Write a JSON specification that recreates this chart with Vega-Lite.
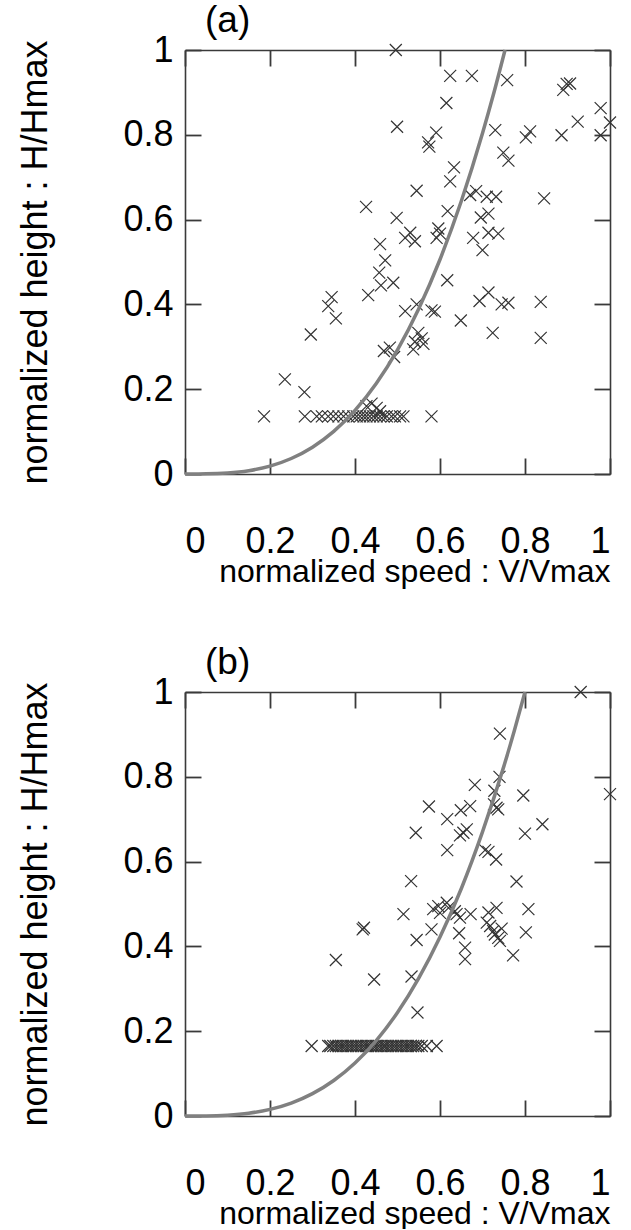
{
  "$schema": "https://vega.github.io/schema/vega-lite/v6.json",
  "background": "white",
  "padding": {"left": 17, "top": 2, "right": 0, "bottom": 0},
  "spacing": 57,
  "config": {
    "font": "Liberation Sans",
    "view": {"stroke": null},
    "title": {"font": "Liberation Sans", "fontSize": 37, "fontWeight": "normal", "color": "#000"},
    "axis": {
      "grid": false,
      "domainColor": "#3a3a3a",
      "domainWidth": 1.6,
      "tickColor": "#3a3a3a",
      "tickWidth": 1.8,
      "tickSize": 16,
      "labelFont": "Liberation Sans",
      "labelFontSize": 36,
      "labelColor": "#000",
      "titleFont": "Liberation Sans",
      "titleFontSize": 32,
      "titleFontWeight": "normal",
      "titleColor": "#000"
    }
  },
  "datasets": {
    "pa": [
      {"v": 0.496, "h": 1.0}, {"v": 0.624, "h": 0.939}, {"v": 0.675, "h": 0.939}, {"v": 0.758, "h": 0.929},
      {"v": 0.615, "h": 0.875}, {"v": 0.499, "h": 0.819}, {"v": 0.73, "h": 0.811}, {"v": 0.591, "h": 0.805},
      {"v": 0.572, "h": 0.782}, {"v": 0.575, "h": 0.772}, {"v": 0.749, "h": 0.758}, {"v": 0.761, "h": 0.739},
      {"v": 0.633, "h": 0.723}, {"v": 0.624, "h": 0.69}, {"v": 0.545, "h": 0.668}, {"v": 0.671, "h": 0.658},
      {"v": 0.685, "h": 0.667}, {"v": 0.71, "h": 0.654}, {"v": 0.732, "h": 0.654}, {"v": 0.845, "h": 0.65},
      {"v": 0.618, "h": 0.62}, {"v": 0.426, "h": 0.63}, {"v": 0.498, "h": 0.604}, {"v": 0.696, "h": 0.605},
      {"v": 0.714, "h": 0.614}, {"v": 0.596, "h": 0.579}, {"v": 0.6, "h": 0.567}, {"v": 0.592, "h": 0.557},
      {"v": 0.518, "h": 0.557}, {"v": 0.53, "h": 0.569}, {"v": 0.541, "h": 0.549}, {"v": 0.678, "h": 0.557},
      {"v": 0.714, "h": 0.569}, {"v": 0.737, "h": 0.567}, {"v": 0.7, "h": 0.528}, {"v": 0.459, "h": 0.542},
      {"v": 0.471, "h": 0.504}, {"v": 0.457, "h": 0.475}, {"v": 0.461, "h": 0.445}, {"v": 0.49, "h": 0.451},
      {"v": 0.617, "h": 0.457}, {"v": 0.431, "h": 0.422}, {"v": 0.345, "h": 0.417}, {"v": 0.337, "h": 0.396},
      {"v": 0.355, "h": 0.367}, {"v": 0.296, "h": 0.329}, {"v": 0.518, "h": 0.384}, {"v": 0.545, "h": 0.4},
      {"v": 0.58, "h": 0.386}, {"v": 0.588, "h": 0.383}, {"v": 0.649, "h": 0.362}, {"v": 0.693, "h": 0.408},
      {"v": 0.714, "h": 0.428}, {"v": 0.745, "h": 0.4}, {"v": 0.761, "h": 0.404}, {"v": 0.837, "h": 0.406},
      {"v": 0.724, "h": 0.333}, {"v": 0.837, "h": 0.321}, {"v": 0.549, "h": 0.333}, {"v": 0.557, "h": 0.32},
      {"v": 0.541, "h": 0.312}, {"v": 0.561, "h": 0.307}, {"v": 0.537, "h": 0.294}, {"v": 0.468, "h": 0.29},
      {"v": 0.482, "h": 0.298}, {"v": 0.492, "h": 0.276}, {"v": 0.235, "h": 0.223}, {"v": 0.281, "h": 0.193},
      {"v": 0.898, "h": 0.92}, {"v": 0.89, "h": 0.906}, {"v": 0.906, "h": 0.921}, {"v": 0.978, "h": 0.863},
      {"v": 0.924, "h": 0.831}, {"v": 1.0, "h": 0.829}, {"v": 0.978, "h": 0.799}, {"v": 0.886, "h": 0.799},
      {"v": 0.802, "h": 0.794}, {"v": 0.812, "h": 0.808},
      {"v": 0.427, "h": 0.16}, {"v": 0.439, "h": 0.166}, {"v": 0.451, "h": 0.156}, {"v": 0.459, "h": 0.148},
      {"v": 0.186, "h": 0.136}, {"v": 0.282, "h": 0.136}, {"v": 0.31, "h": 0.136}, {"v": 0.322, "h": 0.136},
      {"v": 0.337, "h": 0.136}, {"v": 0.349, "h": 0.136}, {"v": 0.361, "h": 0.136}, {"v": 0.373, "h": 0.136},
      {"v": 0.384, "h": 0.136}, {"v": 0.396, "h": 0.136}, {"v": 0.404, "h": 0.136}, {"v": 0.412, "h": 0.136},
      {"v": 0.42, "h": 0.136}, {"v": 0.427, "h": 0.136}, {"v": 0.435, "h": 0.136}, {"v": 0.443, "h": 0.136},
      {"v": 0.451, "h": 0.136}, {"v": 0.459, "h": 0.136}, {"v": 0.467, "h": 0.136}, {"v": 0.475, "h": 0.136},
      {"v": 0.486, "h": 0.136}, {"v": 0.494, "h": 0.136}, {"v": 0.506, "h": 0.136}, {"v": 0.514, "h": 0.136},
      {"v": 0.58, "h": 0.136}
    ],
    "pb": [
      {"v": 0.931, "h": 1.0}, {"v": 0.741, "h": 0.902}, {"v": 0.74, "h": 0.8}, {"v": 0.682, "h": 0.781},
      {"v": 0.728, "h": 0.767}, {"v": 0.796, "h": 0.756}, {"v": 1.0, "h": 0.759}, {"v": 0.574, "h": 0.73},
      {"v": 0.649, "h": 0.721}, {"v": 0.671, "h": 0.731}, {"v": 0.727, "h": 0.735}, {"v": 0.733, "h": 0.727},
      {"v": 0.737, "h": 0.723}, {"v": 0.617, "h": 0.7}, {"v": 0.543, "h": 0.668}, {"v": 0.663, "h": 0.676},
      {"v": 0.655, "h": 0.668}, {"v": 0.647, "h": 0.662}, {"v": 0.841, "h": 0.688}, {"v": 0.8, "h": 0.666},
      {"v": 0.617, "h": 0.627}, {"v": 0.706, "h": 0.627}, {"v": 0.714, "h": 0.623}, {"v": 0.732, "h": 0.605},
      {"v": 0.532, "h": 0.554}, {"v": 0.78, "h": 0.553}, {"v": 0.514, "h": 0.476}, {"v": 0.584, "h": 0.488},
      {"v": 0.596, "h": 0.495}, {"v": 0.616, "h": 0.503}, {"v": 0.62, "h": 0.491}, {"v": 0.6, "h": 0.479},
      {"v": 0.635, "h": 0.483}, {"v": 0.639, "h": 0.476}, {"v": 0.647, "h": 0.468}, {"v": 0.672, "h": 0.476},
      {"v": 0.714, "h": 0.48}, {"v": 0.733, "h": 0.491}, {"v": 0.808, "h": 0.488}, {"v": 0.71, "h": 0.456},
      {"v": 0.718, "h": 0.448}, {"v": 0.725, "h": 0.436}, {"v": 0.729, "h": 0.428}, {"v": 0.737, "h": 0.42},
      {"v": 0.745, "h": 0.442}, {"v": 0.741, "h": 0.413}, {"v": 0.58, "h": 0.44}, {"v": 0.545, "h": 0.415},
      {"v": 0.645, "h": 0.431}, {"v": 0.659, "h": 0.397}, {"v": 0.659, "h": 0.37}, {"v": 0.802, "h": 0.433},
      {"v": 0.772, "h": 0.379}, {"v": 0.533, "h": 0.329}, {"v": 0.418, "h": 0.44}, {"v": 0.421, "h": 0.444},
      {"v": 0.355, "h": 0.368}, {"v": 0.445, "h": 0.322}, {"v": 0.547, "h": 0.244},
      {"v": 0.298, "h": 0.165}, {"v": 0.337, "h": 0.165}, {"v": 0.342, "h": 0.165}, {"v": 0.349, "h": 0.165},
      {"v": 0.355, "h": 0.165}, {"v": 0.361, "h": 0.165}, {"v": 0.367, "h": 0.165}, {"v": 0.372, "h": 0.165},
      {"v": 0.378, "h": 0.165}, {"v": 0.384, "h": 0.165}, {"v": 0.39, "h": 0.165}, {"v": 0.396, "h": 0.165},
      {"v": 0.402, "h": 0.165}, {"v": 0.408, "h": 0.165}, {"v": 0.414, "h": 0.165}, {"v": 0.42, "h": 0.165},
      {"v": 0.426, "h": 0.165}, {"v": 0.431, "h": 0.165}, {"v": 0.437, "h": 0.165}, {"v": 0.443, "h": 0.165},
      {"v": 0.449, "h": 0.165}, {"v": 0.455, "h": 0.165}, {"v": 0.461, "h": 0.165}, {"v": 0.467, "h": 0.165},
      {"v": 0.472, "h": 0.165}, {"v": 0.478, "h": 0.165}, {"v": 0.484, "h": 0.165}, {"v": 0.49, "h": 0.165},
      {"v": 0.496, "h": 0.165}, {"v": 0.502, "h": 0.165}, {"v": 0.508, "h": 0.165}, {"v": 0.514, "h": 0.165},
      {"v": 0.52, "h": 0.165}, {"v": 0.525, "h": 0.165}, {"v": 0.531, "h": 0.165}, {"v": 0.537, "h": 0.165},
      {"v": 0.543, "h": 0.165}, {"v": 0.549, "h": 0.165}, {"v": 0.557, "h": 0.165}, {"v": 0.569, "h": 0.165},
      {"v": 0.592, "h": 0.165}
    ],
    "ca": [
      {"v": 0, "h": 0}, {"v": 0.05, "h": 0.0003}, {"v": 0.1, "h": 0.0023}, {"v": 0.15, "h": 0.0079},
      {"v": 0.2, "h": 0.0187}, {"v": 0.25, "h": 0.0366}, {"v": 0.3, "h": 0.0632}, {"v": 0.35, "h": 0.1004},
      {"v": 0.4, "h": 0.1499}, {"v": 0.45, "h": 0.2134}, {"v": 0.5, "h": 0.2928}, {"v": 0.55, "h": 0.3897},
      {"v": 0.6, "h": 0.5059}, {"v": 0.65, "h": 0.6432}, {"v": 0.7, "h": 0.8034}, {"v": 0.725, "h": 0.8925},
      {"v": 0.753, "h": 1.0}
    ],
    "cb": [
      {"v": 0, "h": 0}, {"v": 0.05, "h": 0.0002}, {"v": 0.1, "h": 0.002}, {"v": 0.15, "h": 0.0066},
      {"v": 0.2, "h": 0.0156}, {"v": 0.25, "h": 0.0305}, {"v": 0.3, "h": 0.0527}, {"v": 0.35, "h": 0.0837},
      {"v": 0.4, "h": 0.125}, {"v": 0.45, "h": 0.178}, {"v": 0.5, "h": 0.244}, {"v": 0.55, "h": 0.325},
      {"v": 0.6, "h": 0.422}, {"v": 0.65, "h": 0.536}, {"v": 0.7, "h": 0.67}, {"v": 0.75, "h": 0.824},
      {"v": 0.775, "h": 0.909}, {"v": 0.8, "h": 1.0}
    ]
  },
  "vconcat": [
    {
      "width": 425,
      "height": 424,
      "title": {"text": "(a)", "anchor": "start", "frame": "group", "dx": 20, "offset": -8},
      "resolve": {"axis": {"x": "independent", "y": "independent"}},
      "layer": [
        {
          "data": {"name": "ca"},
          "mark": {"type": "point", "opacity": 0},
          "encoding": {
            "x": {"field": "v", "type": "quantitative", "scale": {"domain": [0, 1], "nice": false, "zero": false},
                  "axis": {"orient": "top", "values": [0, 0.2, 0.4, 0.6, 0.8, 1], "offset": -424, "labels": false, "domain": false, "title": null}},
            "y": {"field": "h", "type": "quantitative", "scale": {"domain": [0, 1], "nice": false, "zero": false},
                  "axis": {"orient": "right", "values": [0, 0.2, 0.4, 0.6, 0.8, 1], "offset": -425, "labels": false, "domain": false, "title": null}}
          }
        },
        {
          "data": {"name": "ca"},
          "mark": {"type": "point", "opacity": 0},
          "encoding": {
            "x": {"field": "v", "type": "quantitative",
                  "axis": {"orient": "bottom", "values": [0, 0.2, 0.4, 0.6, 0.8, 1], "offset": -424, "labels": false, "domain": false, "title": null}},
            "y": {"field": "h", "type": "quantitative",
                  "axis": {"orient": "left", "values": [0, 0.2, 0.4, 0.6, 0.8, 1], "offset": -425, "labels": false, "domain": false, "title": null}}
          }
        },
        {
          "data": {"name": "pa"},
          "mark": {"type": "point", "shape": "M-1,-1L1,1M-1,1L1,-1", "size": 144, "strokeWidth": 1.2, "color": "#333", "opacity": 1, "filled": false},
          "encoding": {
            "x": {"field": "v", "type": "quantitative",
                  "axis": {"orient": "bottom", "values": [0, 0.2, 0.4, 0.6, 0.8, 1], "tickSize": 0, "format": "~g", "labelPadding": 50, "title": "normalized speed : V/Vmax", "titleAnchor": "end", "titlePadding": -3}},
            "y": {"field": "h", "type": "quantitative",
                  "axis": {"orient": "left", "values": [0, 0.2, 0.4, 0.6, 0.8, 1], "tickSize": 0, "format": "~g", "labelPadding": 12, "title": "normalized height : H/Hmax", "titleFontSize": 36, "titlePadding": 68}}
          }
        },
        {
          "data": {"name": "ca"},
          "mark": {"type": "line", "color": "#808080", "strokeWidth": 3.5, "interpolate": "monotone"},
          "encoding": {
            "x": {"field": "v", "type": "quantitative", "axis": {"orient": "top", "values": [0, 1], "tickSize": 0, "labels": false, "title": null}},
            "y": {"field": "h", "type": "quantitative", "axis": {"orient": "right", "values": [0, 1], "tickSize": 0, "labels": false, "title": null}}
          }
        }
      ]
    },
    {
      "width": 425,
      "height": 424,
      "title": {"text": "(b)", "anchor": "start", "frame": "group", "dx": 20, "offset": -8},
      "resolve": {"axis": {"x": "independent", "y": "independent"}},
      "layer": [
        {
          "data": {"name": "cb"},
          "mark": {"type": "point", "opacity": 0},
          "encoding": {
            "x": {"field": "v", "type": "quantitative", "scale": {"domain": [0, 1], "nice": false, "zero": false},
                  "axis": {"orient": "top", "values": [0, 0.2, 0.4, 0.6, 0.8, 1], "offset": -424, "labels": false, "domain": false, "title": null}},
            "y": {"field": "h", "type": "quantitative", "scale": {"domain": [0, 1], "nice": false, "zero": false},
                  "axis": {"orient": "right", "values": [0, 0.2, 0.4, 0.6, 0.8, 1], "offset": -425, "labels": false, "domain": false, "title": null}}
          }
        },
        {
          "data": {"name": "cb"},
          "mark": {"type": "point", "opacity": 0},
          "encoding": {
            "x": {"field": "v", "type": "quantitative",
                  "axis": {"orient": "bottom", "values": [0, 0.2, 0.4, 0.6, 0.8, 1], "offset": -424, "labels": false, "domain": false, "title": null}},
            "y": {"field": "h", "type": "quantitative",
                  "axis": {"orient": "left", "values": [0, 0.2, 0.4, 0.6, 0.8, 1], "offset": -425, "labels": false, "domain": false, "title": null}}
          }
        },
        {
          "data": {"name": "pb"},
          "mark": {"type": "point", "shape": "M-1,-1L1,1M-1,1L1,-1", "size": 144, "strokeWidth": 1.2, "color": "#333", "opacity": 1, "filled": false},
          "encoding": {
            "x": {"field": "v", "type": "quantitative",
                  "axis": {"orient": "bottom", "values": [0, 0.2, 0.4, 0.6, 0.8, 1], "tickSize": 0, "format": "~g", "labelPadding": 50, "title": "normalized speed : V/Vmax", "titleAnchor": "end", "titlePadding": -3}},
            "y": {"field": "h", "type": "quantitative",
                  "axis": {"orient": "left", "values": [0, 0.2, 0.4, 0.6, 0.8, 1], "tickSize": 0, "format": "~g", "labelPadding": 12, "title": "normalized height : H/Hmax", "titleFontSize": 36, "titlePadding": 68}}
          }
        },
        {
          "data": {"name": "cb"},
          "mark": {"type": "line", "color": "#808080", "strokeWidth": 3.5, "interpolate": "monotone"},
          "encoding": {
            "x": {"field": "v", "type": "quantitative", "axis": {"orient": "top", "values": [0, 1], "tickSize": 0, "labels": false, "title": null}},
            "y": {"field": "h", "type": "quantitative", "axis": {"orient": "right", "values": [0, 1], "tickSize": 0, "labels": false, "title": null}}
          }
        }
      ]
    }
  ]
}
